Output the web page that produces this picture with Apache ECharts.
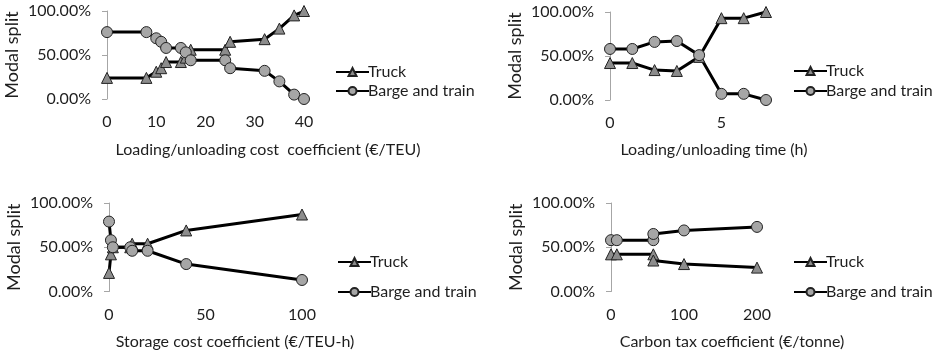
<!DOCTYPE html>
<html><head><meta charset="utf-8">
<script src="https://cdn.jsdelivr.net/npm/echarts@6/dist/echarts.min.js"></script>
<style>html,body{margin:0;padding:0;background:#fff}#c{width:944px;height:355px}</style>
</head><body><div id="c"></div>
<script>
// Panel 1: Loading/unloading cost coefficient
const p1X = [0, 8, 10, 11, 12, 15, 16, 17, 24, 25, 32, 35, 38, 40];
const p1Truck = [24, 24, 31, 35, 42, 42, 47, 56, 56, 65, 68, 80, 95, 100];
const p1Barge = [76, 76, 69, 65, 58, 58, 53, 44, 44, 35, 32, 20, 5, 0];
// Panel 2: Loading/unloading time
const p2X = [0, 1, 2, 3, 4, 5, 6, 7];
const p2Truck = [42, 42, 34, 33, 49, 93, 93, 100];
const p2Barge = [58, 58, 66, 67, 51, 7, 7, 0];
// Panel 3: Storage cost coefficient
const p3X = [0, 1, 2, 11, 12, 20, 40, 100];
const p3Truck = [21, 42, 50, 50, 54, 54, 69, 87];
const p3Barge = [79, 58, 50, 50, 46, 46, 31, 13];
// Panel 4: Carbon tax coefficient
const p4X = [0, 8, 58, 58, 100, 200];
const p4Truck = [42, 42, 42, 35, 31, 27];
const p4Barge = [58, 58, 58, 65, 69, 73];

const seriesNames = ['Truck', 'Barge and train'];
const xTitles = ['Loading/unloading cost  coefficient (€/TEU)', 'Loading/unloading time (h)',
                 'Storage cost coefficient (€/TEU-h)', 'Carbon tax coefficient (€/tonne)'];
const yTitle = 'Modal split';
const xMax = [40, 7, 100, 200];
const xInterval = [10, 5, 50, 100];

const FONT = 'Lato';
const FS = 16;
const TXT = '#1e1e1e';
const grids = [
  {left: 107, top: 11, width: 197, height: 88},
  {left: 610, top: 12, width: 156, height: 88},
  {left: 109, top: 203, width: 193, height: 88.5},
  {left: 611, top: 203, width: 146, height: 88.5}
];
const titlePos = [[268, 142], [714, 142], [235, 334], [732, 334]];
const legendPos = [[335, 64, 3], [793, 63, 4], [337, 254, 14], [793, 254, 14]];
const panels = [[p1X, p1Truck, p1Barge], [p2X, p2Truck, p2Barge], [p3X, p3Truck, p3Barge], [p4X, p4Truck, p4Barge]];

const xAxis = [], yAxis = [], series = [], legend = [], title = [];
panels.forEach((p, i) => {
  xAxis.push({
    type: 'value', gridIndex: i, min: 0, max: xMax[i], interval: xInterval[i],
    axisLine: {show: false}, axisTick: {show: false}, splitLine: {show: false},
    axisLabel: {fontFamily: FONT, fontSize: FS, color: TXT, margin: 15,
      showMaxLabel: xMax[i] % xInterval[i] === 0}
  });
  yAxis.push({
    type: 'value', gridIndex: i, min: 0, max: 100, interval: 50,
    name: yTitle, nameLocation: 'middle', nameGap: 86, nameRotate: 90,
    nameTextStyle: {fontFamily: FONT, fontSize: 18, color: TXT},
    axisLine: {show: true, lineStyle: {color: '#a6a6a6', width: 1}},
    axisTick: {show: true, length: 5, lineStyle: {color: '#a6a6a6'}},
    splitLine: {show: false},
    axisLabel: {fontFamily: FONT, fontSize: FS, color: TXT, margin: 16,
      formatter: v => v.toFixed(2) + '%'}
  });
  const [xs, tr, ba] = p;
  series.push({
    name: seriesNames[0], type: 'line', xAxisIndex: i, yAxisIndex: i,
    data: xs.map((x, k) => [x, tr[k]]),
    symbol: 'triangle', symbolSize: 11, showAllSymbol: true,
    lineStyle: {color: '#000', width: 3},
    itemStyle: {color: '#8c8c8c', borderColor: '#222', borderWidth: 1},
    animation: false
  });
  series.push({
    name: seriesNames[1], type: 'line', xAxisIndex: i, yAxisIndex: i,
    data: xs.map((x, k) => [x, ba[k]]),
    symbol: 'circle', symbolSize: 11, showAllSymbol: true,
    lineStyle: {color: '#000', width: 3},
    itemStyle: {color: '#a6a6a6', borderColor: '#222', borderWidth: 1},
    animation: false
  });
  legend.push({
    orient: 'vertical', left: legendPos[i][0], top: legendPos[i][1], itemGap: legendPos[i][2],
    itemWidth: 33, itemHeight: 10, padding: 0, selectedMode: false,
    textStyle: {fontFamily: FONT, fontSize: FS, color: TXT, padding: [0, 0, 0, -6]},
    data: seriesNames
  });
  title.push({
    text: xTitles[i], left: titlePos[i][0], top: titlePos[i][1], textAlign: 'center', padding: 0,
    textStyle: {fontFamily: FONT, fontSize: FS, fontWeight: 'normal', color: TXT}
  });
});

const chart = echarts.init(document.getElementById('c'), null, {renderer: 'canvas'});
chart.setOption({animation: false, grid: grids, xAxis, yAxis, series, legend, title});
</script>
</body></html>
